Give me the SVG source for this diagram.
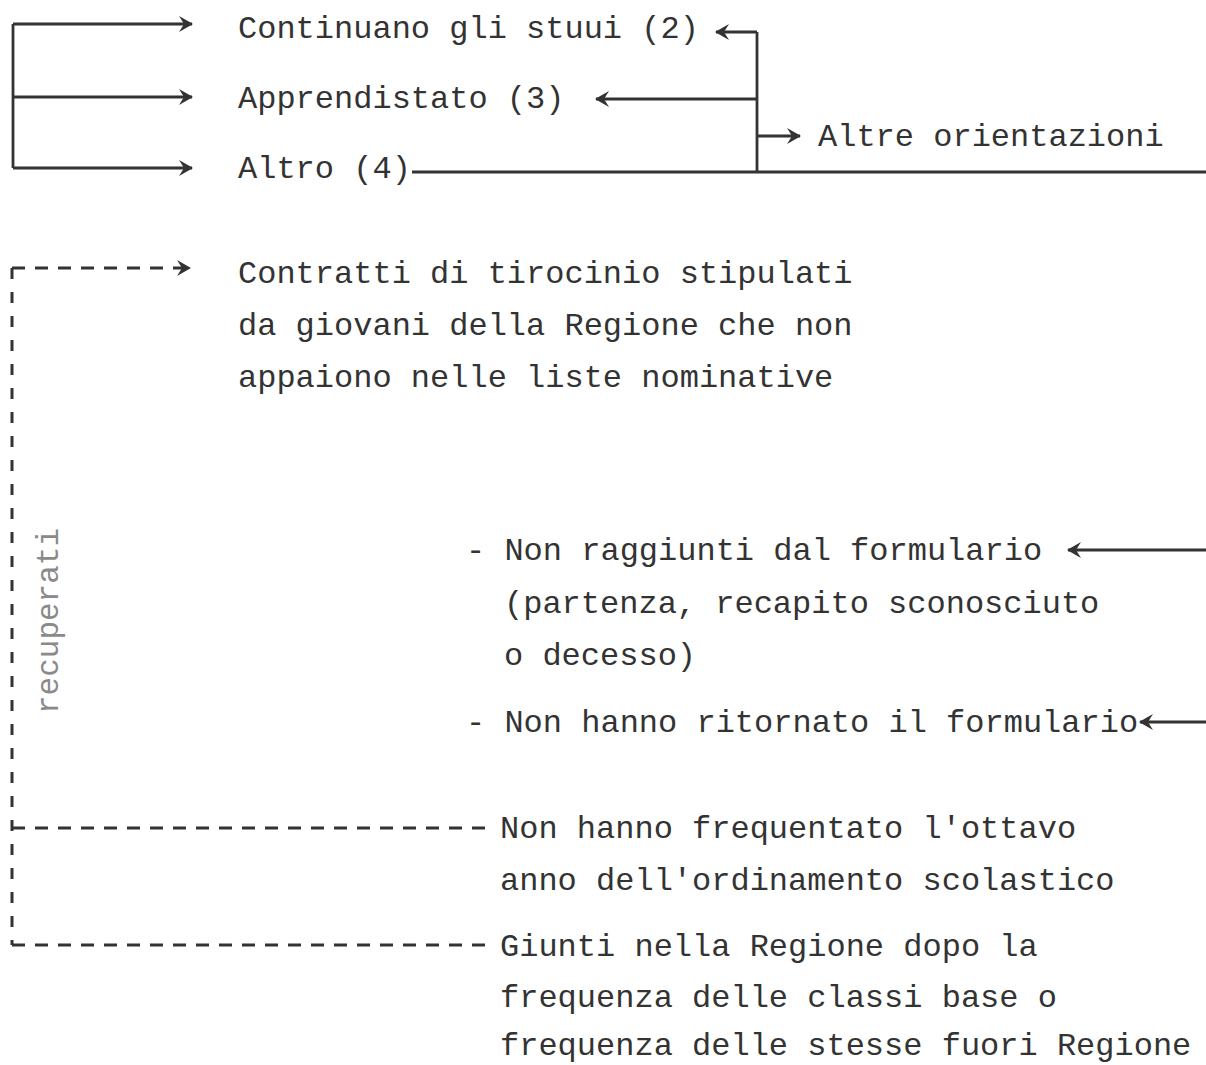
<svg xmlns="http://www.w3.org/2000/svg" width="1206" height="1065" viewBox="0 0 1206 1065">
<style>
.t{font-family:"Liberation Mono","Courier New",monospace;font-size:32px;fill:#333}
.r{font-family:"Liberation Mono","Courier New",monospace;font-size:31px;fill:#8a8a8a}
.l{fill:none;stroke:#333;stroke-width:2.8}
.d{fill:none;stroke:#333;stroke-width:2.8;stroke-dasharray:13 10}
.dv{fill:none;stroke:#333;stroke-width:3;stroke-dasharray:11 13}
</style>
<defs>
<marker id="ah" viewBox="0 0 14 16" refX="13" refY="8" markerWidth="14" markerHeight="16" markerUnits="userSpaceOnUse" orient="auto">
<path d="M0,0 L14,8 L0,16 L5,8 z" fill="#333"/>
</marker>
</defs>
<rect width="1206" height="1065" fill="#fff"/>
<g id="connectors">
<path class="l" d="M13,24 V168"/>
<path class="l" d="M13,24 H192" marker-end="url(#ah)"/>
<path class="l" d="M13,97 H192" marker-end="url(#ah)"/>
<path class="l" d="M13,168 H192" marker-end="url(#ah)"/>
<path class="l" d="M757,32 V172"/>
<path class="l" d="M757,32 H716" marker-end="url(#ah)"/>
<path class="l" d="M757,99 H596" marker-end="url(#ah)"/>
<path class="l" d="M757,136 H800" marker-end="url(#ah)"/>
<path class="l" d="M412,172 H1206"/>
<path class="dv" d="M12,268 V945"/>
<path class="d" d="M12,268 H190" marker-end="url(#ah)"/>
<path class="d" d="M12,828 H488"/>
<path class="d" d="M12,945 H488"/>
<path class="l" d="M1206,550 H1068" marker-end="url(#ah)"/>
<path class="l" d="M1206,722 H1140" marker-end="url(#ah)"/>
</g>
<g id="n-continuano"><text class="t" x="238" y="38">Continuano gli stuui (2)</text></g>
<g id="n-apprendistato"><text class="t" x="238" y="108">Apprendistato (3)</text></g>
<g id="n-altro"><text class="t" x="238" y="178">Altro (4)</text></g>
<g id="n-altre"><text class="t" x="818" y="146">Altre orientazioni</text></g>
<g id="n-contratti">
<text class="t" x="238" y="283">Contratti di tirocinio stipulati</text>
<text class="t" x="238" y="335">da giovani della Regione che non</text>
<text class="t" x="238" y="387">appaiono nelle liste nominative</text>
</g>
<g id="n-recuperati"><text class="r" x="58" y="621" text-anchor="middle" transform="rotate(-90 58 621)">recuperati</text></g>
<g id="n-nonraggiunti">
<text class="t" x="466" y="560">- Non raggiunti dal formulario</text>
<text class="t" x="504" y="613">(partenza, recapito sconosciuto</text>
<text class="t" x="504" y="665">o decesso)</text>
</g>
<g id="n-nonritornato"><text class="t" x="466" y="732">- Non hanno ritornato il formulario</text></g>
<g id="n-ottavo">
<text class="t" x="500" y="838">Non hanno frequentato l'ottavo</text>
<text class="t" x="500" y="890">anno dell'ordinamento scolastico</text>
</g>
<g id="n-giunti">
<text class="t" x="500" y="956">Giunti nella Regione dopo la</text>
<text class="t" x="500" y="1007">frequenza delle classi base o</text>
<text class="t" x="500" y="1055">frequenza delle stesse fuori Regione</text>
</g>
</svg>
